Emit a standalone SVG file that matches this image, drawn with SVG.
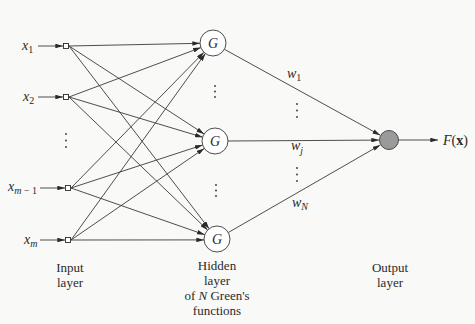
<svg xmlns="http://www.w3.org/2000/svg" width="475" height="324" viewBox="0 0 475 324">
<defs>
<marker id="ah" viewBox="0 0 10 6" refX="10" refY="3" markerWidth="8" markerHeight="4.6" markerUnits="userSpaceOnUse" orient="auto">
<path d="M0,0 L10,3 L0,6 Z" fill="#2a2a2a"/>
</marker>
<style>
.ln{stroke:#3a3a3a;stroke-width:0.9;fill:none;marker-end:url(#ah)}
.sq{fill:#fff;stroke:#2a2a2a;stroke-width:0.9}
.hc{fill:#fff;stroke:#3a3a3a;stroke-width:0.9}
.t{font-family:"Liberation Serif","Times New Roman",serif;fill:#2a2a2a}
.i{font-style:italic}
.lab{font-size:13px;text-anchor:middle}
.dot{fill:#333}
</style>
</defs>
<rect width="475" height="324" fill="#f9f9f7"/>
<g id="connectors">
<line class="ln" x1="38" y1="46" x2="63" y2="46"/>
<line class="ln" x1="38" y1="97" x2="63" y2="97"/>
<line class="ln" x1="40" y1="188" x2="65" y2="188"/>
<line class="ln" x1="40" y1="240" x2="65" y2="240"/>
<line class="ln" x1="69" y1="46" x2="200" y2="43.3"/>
<line class="ln" x1="69" y1="46" x2="204.1" y2="133.9"/>
<line class="ln" x1="69" y1="46" x2="209.1" y2="228.7"/>
<line class="ln" x1="69" y1="97" x2="200.8" y2="47.6"/>
<line class="ln" x1="69" y1="97" x2="202.6" y2="137.2"/>
<line class="ln" x1="69" y1="97" x2="207.6" y2="230"/>
<line class="ln" x1="71" y1="188" x2="203.9" y2="52.3"/>
<line class="ln" x1="71" y1="188" x2="202.6" y2="145"/>
<line class="ln" x1="71" y1="188" x2="204.7" y2="234.7"/>
<line class="ln" x1="71" y1="240" x2="205.4" y2="53.5"/>
<line class="ln" x1="71" y1="240" x2="204.3" y2="148.4"/>
<line class="ln" x1="71" y1="240" x2="204" y2="239.9"/>
<line class="ln" x1="224.4" y1="49.3" x2="380.2" y2="135.2"/>
<line class="ln" x1="228" y1="141" x2="379" y2="140.1"/>
<line class="ln" x1="228.3" y1="232.5" x2="380.3" y2="145"/>
<line class="ln" x1="399" y1="140" x2="438" y2="140"/>
</g>
<g id="in1"><rect class="sq" x="63.5" y="43.5" width="5" height="5"/><text class="t i" x="22" y="50" font-size="14">x<tspan font-size="10" font-style="normal" dy="3">1</tspan></text></g>
<g id="in2"><rect class="sq" x="63.5" y="94.5" width="5" height="5"/><text class="t i" x="23" y="101" font-size="14">x<tspan font-size="10" font-style="normal" dy="3">2</tspan></text></g>
<g id="in3"><rect class="sq" x="65.5" y="185.5" width="5" height="5"/><text class="t i" x="8" y="191" font-size="14">x<tspan font-size="10" dy="3">m</tspan><tspan font-size="10" font-style="normal"> − 1</tspan></text></g>
<g id="in4"><rect class="sq" x="65.5" y="237.5" width="5" height="5"/><text class="t i" x="24" y="244" font-size="14">x<tspan font-size="10" dy="3">m</tspan></text></g>
<g id="indots"><circle class="dot" cx="66" cy="134" r="0.9"/><circle class="dot" cx="66" cy="140.5" r="0.9"/><circle class="dot" cx="66" cy="147" r="0.9"/></g>
<g id="h1"><circle class="hc" cx="213" cy="43" r="13"/><text class="t i" x="213" y="48" font-size="14" text-anchor="middle">G</text></g>
<g id="h2"><circle class="hc" cx="215" cy="141" r="13"/><text class="t i" x="215" y="146" font-size="14" text-anchor="middle">G</text></g>
<g id="h3"><circle class="hc" cx="217" cy="239" r="13"/><text class="t i" x="217" y="244" font-size="14" text-anchor="middle">G</text></g>
<g id="hdots"><circle class="dot" cx="215" cy="86" r="0.9"/><circle class="dot" cx="215" cy="91.5" r="0.9"/><circle class="dot" cx="215" cy="97" r="0.9"/><circle class="dot" cx="216" cy="185" r="0.9"/><circle class="dot" cx="216" cy="190.5" r="0.9"/><circle class="dot" cx="216" cy="196" r="0.9"/></g>
<g id="wdots"><circle class="dot" cx="297" cy="104" r="0.9"/><circle class="dot" cx="297" cy="110.5" r="0.9"/><circle class="dot" cx="297" cy="117" r="0.9"/><circle class="dot" cx="297" cy="168" r="0.9"/><circle class="dot" cx="297" cy="174.5" r="0.9"/><circle class="dot" cx="297" cy="181" r="0.9"/></g>
<g id="weights">
<text class="t i" x="287" y="78" font-size="14">w<tspan font-size="10" font-style="normal" dy="3">1</tspan></text>
<text class="t i" x="291" y="150" font-size="14">w<tspan font-size="10" dy="4">j</tspan></text>
<text class="t i" x="292" y="207" font-size="14">w<tspan font-size="10" dy="3">N</tspan></text>
</g>
<g id="out"><circle cx="389" cy="140" r="9.5" fill="#9a9a9a" stroke="#3a3a3a" stroke-width="0.9"/></g>
<g id="fx"><text class="t" x="443" y="145" font-size="14"><tspan font-style="italic">F</tspan>(<tspan font-weight="bold">x</tspan>)</text></g>
<g id="labels">
<text class="t lab" x="70" y="272">Input</text>
<text class="t lab" x="70" y="287">layer</text>
<text class="t lab" x="217" y="270">Hidden</text>
<text class="t lab" x="217" y="285">layer</text>
<text class="t lab" x="217" y="300">of <tspan font-style="italic">N</tspan> Green's</text>
<text class="t lab" x="217" y="315">functions</text>
<text class="t lab" x="390" y="272">Output</text>
<text class="t lab" x="390" y="287">layer</text>
</g>
</svg>
